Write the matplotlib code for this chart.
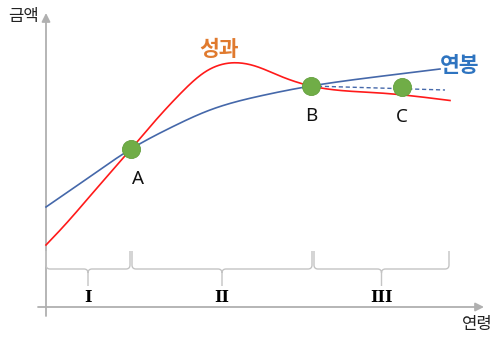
import numpy as np
import matplotlib
matplotlib.use("Agg")
import matplotlib.pyplot as plt
from matplotlib.path import Path
from matplotlib.patches import PathPatch, FancyArrowPatch

plt.rcParams['font.family'] = ['Noto Sans CJK KR', 'DejaVu Sans']

salary_x = [46, 88, 131, 170, 210, 260, 311, 375, 440]
salary_y = [207, 178, 149, 128, 110, 96, 86, 77, 69]
perf_x = [46, 63, 97, 131, 155, 180, 205, 230, 255, 280, 311, 380, 450]
perf_y = [245, 227, 188, 149, 121, 94, 72, 63, 66, 76, 86, 93, 100.5]
dash_x = [311, 445]
dash_y = [86, 90]
pts_x = [131, 311, 402]
pts_y = [149, 86, 87]
pt_labels = ['A', 'B', 'C']
stage_bounds = [46, 131, 313, 450]
stage_labels = ['I', 'II', 'III']

fig = plt.figure(figsize=(5.02, 3.43), dpi=100)
ax = fig.add_axes([0, 0, 1, 1])
ax.set_xlim(0, 502)
ax.set_ylim(343, 0)
ax.axis('off')


def natural_spline(xs, ys, n=400):
    x = np.asarray(xs, float)
    y = np.asarray(ys, float)
    m = len(x)
    h = np.diff(x)
    A = np.zeros((m, m))
    b = np.zeros(m)
    A[0, 0] = 1
    A[-1, -1] = 1
    for i in range(1, m - 1):
        A[i, i - 1] = h[i - 1]
        A[i, i] = 2 * (h[i - 1] + h[i])
        A[i, i + 1] = h[i]
        b[i] = 3 * ((y[i + 1] - y[i]) / h[i] - (y[i] - y[i - 1]) / h[i - 1])
    c = np.linalg.solve(A, b)
    bb = (y[1:] - y[:-1]) / h - h * (2 * c[:-1] + c[1:]) / 3
    d = (c[1:] - c[:-1]) / (3 * h)
    xx = np.linspace(x[0], x[-1], n)
    idx = np.clip(np.searchsorted(x, xx) - 1, 0, m - 2)
    t = xx - x[idx]
    yy = y[idx] + bb[idx] * t + c[idx] * t ** 2 + d[idx] * t ** 3
    return xx, yy


axis_c = '#c4c4c4'
# axes with arrows
ax.add_patch(FancyArrowPatch((46, 316), (46, 13), arrowstyle='-|>,head_length=5,head_width=2.5',
                             color='#b0b0b0', lw=1.3, mutation_scale=1, shrinkA=0, shrinkB=0))
ax.add_patch(FancyArrowPatch((38, 307), (484, 307), arrowstyle='-|>,head_length=5,head_width=2.5',
                             color='#b0b0b0', lw=1.3, mutation_scale=1, shrinkA=0, shrinkB=0))
ax.text(24, 16, '금액', fontsize=12, ha='center', va='center', color='#222222')
ax.text(477, 324, '연령', fontsize=12, ha='center', va='center', color='#222222')

# curves
sx, sy = natural_spline(salary_x, salary_y)
ax.plot(sx, sy, color='#4568aa', lw=1.2)
px, py = natural_spline(perf_x, perf_y)
ax.plot(px, py, color='#ff1a1a', lw=1.2)
ax.plot(dash_x, dash_y, color='#4568aa', lw=1.0, ls=(0, (3, 2)))

ax.scatter(pts_x, pts_y, s=170, color='#70ad47', edgecolors='#63a03d', linewidths=0.6, zorder=5)
for x, y, l in zip(pts_x, pts_y, pt_labels):
    ax.text(x + (7 if l == 'A' else 0), y + 30, l, fontsize=13.5, ha='center', va='center',
            color='#111111', family=['Noto Sans', 'DejaVu Sans'])

ax.text(219, 50, '성과', fontsize=15.5, fontweight='bold', color='#e07a2e', ha='center', va='center')
ax.text(460, 66, '연봉', fontsize=15.5, fontweight='bold', color='#2e74c0', ha='center', va='center')


def brace(x0, x1, ytop=251, ymid=269, ybot=286, r=4):
    xm = (x0 + x1) / 2.0
    v = [(x0, ytop), (x0, ymid - r), (x0, ymid), (x0 + r, ymid),
         (xm - r, ymid), (xm, ymid), (xm, ymid + r), (xm, ybot),
         (xm, ymid + r), (xm, ymid), (xm + r, ymid),
         (x1 - r, ymid), (x1, ymid), (x1, ymid - r), (x1, ytop)]
    c = [Path.MOVETO, Path.LINETO, Path.CURVE3, Path.CURVE3,
         Path.LINETO, Path.CURVE3, Path.CURVE3, Path.LINETO,
         Path.MOVETO, Path.CURVE3, Path.CURVE3,
         Path.LINETO, Path.CURVE3, Path.CURVE3, Path.LINETO]
    ax.add_patch(PathPatch(Path(v, c), fill=False, ec=axis_c, lw=1.0))
    return xm


for i, lab in enumerate(stage_labels):
    x0, x1 = stage_bounds[i], stage_bounds[i + 1]
    xm = brace(x0 + (1 if i else 0), x1 - 1)
    ax.text(xm, 297, lab, fontsize=11.5, fontweight='bold', ha='center', va='center',
            color='black', family=['DejaVu Serif'])

fig.savefig('out.png', dpi=100)
